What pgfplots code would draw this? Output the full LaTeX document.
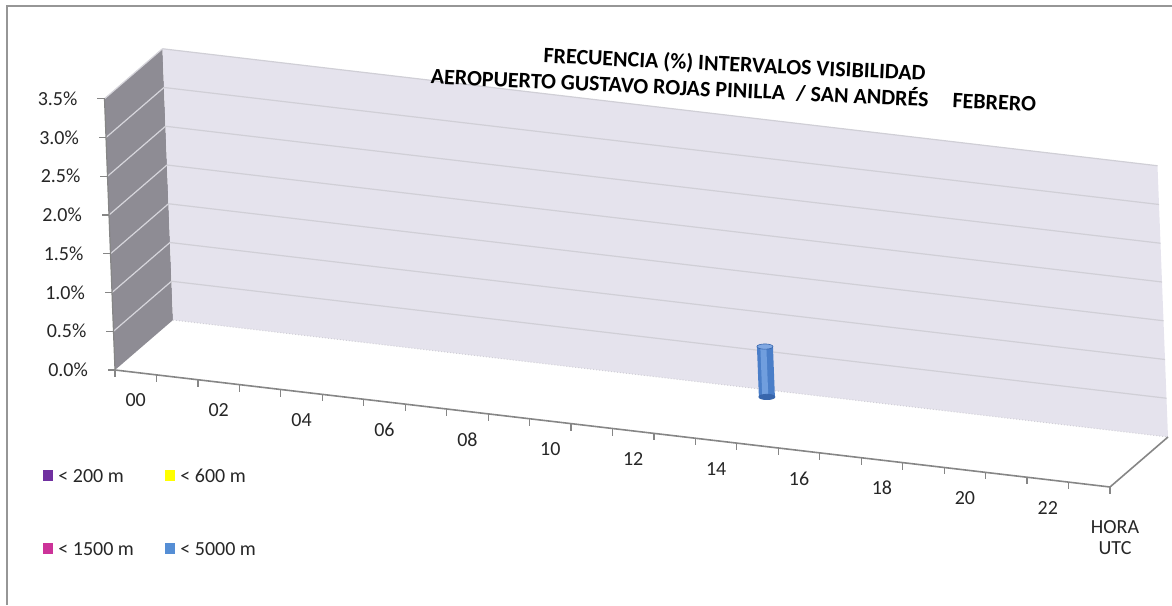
\documentclass[border=0pt]{standalone}
\usepackage{pgfplots}
\pgfplotsset{compat=1.18}
\usepackage{fontspec}
\setmainfont{Carlito}
\definecolor{leftwall}{RGB}{142,140,148}
\definecolor{backwall}{RGB}{229,227,237}
\definecolor{gridback}{RGB}{208,207,214}
\definecolor{gridleft}{RGB}{214,213,219}
\definecolor{axisgray}{RGB}{134,134,134}
\definecolor{framegray}{RGB}{150,150,150}
\definecolor{c200}{RGB}{112,48,160}
\definecolor{c600}{RGB}{255,255,0}
\definecolor{c1500}{RGB}{204,51,153}
\definecolor{c5000}{RGB}{85,142,213}
\definecolor{barmain}{RGB}{74,126,200}
\definecolor{bardark}{RGB}{56,102,172}
\definecolor{barlight}{RGB}{112,158,222}
\definecolor{bartop}{RGB}{128,168,226}
\begin{document}
\begin{tikzpicture}
\begin{axis}[
  x={(20.729pt,-2.4375pt)}, y={(7.25pt,6.25pt)}, z={(-1.5pt,38.75pt)},
  xmin=-0.5, xmax=23.5, ymin=0, ymax=4, zmin=0, zmax=3.5,
  clip=false,
  axis line style={draw=none},
  major tick length=0pt, minor tick length=0pt,
  xtick={0,2,...,22},
  xticklabels={00,02,04,06,08,10,12,14,16,18,20,22},
  ytick=\empty,
  ztick={0,0.5,...,3.5},
  zticklabel={\pgfmathprintnumber[fixed,fixed zerofill,precision=1]{\tick}\%},
  /pgf/number format/assume math mode=true,
  ticklabel style={font=\fontsize{10pt}{12pt}\selectfont, text=black!85},
  xticklabel style={anchor=center, yshift=-14pt},
  zticklabel style={anchor=east, xshift=-10pt},
]
\fill[leftwall] (axis cs:-0.5,0,0) -- (axis cs:-0.5,4,0) -- (axis cs:-0.5,4,3.5) -- (axis cs:-0.5,0,3.5) -- cycle;
\fill[backwall] (axis cs:-0.5,4,0) -- (axis cs:23.5,4,0) -- (axis cs:23.5,4,3.5) -- (axis cs:-0.5,4,3.5) -- cycle;
\pgfplotsinvokeforeach{0.5,1.0,1.5,2.0,2.5,3.0,3.5}{
  \draw[gridleft, line width=0.6pt] (axis cs:-0.5,0,#1) -- (axis cs:-0.5,4,#1);
  \draw[gridback, line width=0.6pt] (axis cs:-0.5,4,#1) -- (axis cs:23.5,4,#1);
}
\draw[gridback, line width=0.5pt, densely dotted] (axis cs:-0.5,4,0) -- (axis cs:23.5,4,0);
\draw[axisgray, line width=0.8pt] (axis cs:-0.5,0,0) -- (axis cs:23.5,0,0) -- (axis cs:23.5,4,0);
\draw[axisgray, line width=0.6pt] (axis cs:-0.5,0,0) -- (axis cs:-0.5,0,3.5);
\pgfplotsinvokeforeach{-0.5,0.5,...,23.5}{
  \draw[axisgray, line width=0.6pt] (axis cs:#1,0,0) -- ([yshift=-3.5pt]axis cs:#1,0,0);
}
\pgfplotsinvokeforeach{0,0.5,...,3.5}{
  \draw[axisgray, line width=0.6pt] (axis cs:-0.5,0,#1) -- ([xshift=-3.5pt]axis cs:-0.5,0,#1);
}
% series < 5000 m (hour 14)
\addplot3[only marks, mark=*, mark size=4pt, mark options={yscale=0.33, fill=bardark, draw=bardark}] coordinates {(14,3.5,0)};
\addplot3[draw=barmain, line width=8pt, mark=none] coordinates {(14,3.5,0) (14,3.5,0.65)};
\addplot3[draw=barlight, line width=3pt, mark=none, xshift=-0.8pt] coordinates {(14,3.5,0) (14,3.5,0.65)};
\addplot3[only marks, mark=*, mark size=4pt, mark options={yscale=0.33, fill=bartop, draw=bardark, line width=0.3pt}] coordinates {(14,3.5,0.65)};
\coordinate (O) at (axis cs:-0.5,0,0);
\end{axis}
\begin{scope}[shift={(O)}]
\begin{scope}[x=0.5pt, y=-0.5pt, shift={(-115,-370)}]
  \draw[framegray, line width=0.75pt] (7,605) -- (7,6) -- (1172,6);
  \node[rotate=-2.65, align=center, font=\fontsize{11pt}{13pt}\selectfont\bfseries, inner sep=0pt] at (734,77) {FRECUENCIA (\%) INTERVALOS VISIBILIDAD\\AEROPUERTO GUSTAVO ROJAS PINILLA\hspace{0.5em}/ SAN ANDRÉS\hspace{1.1em}FEBRERO};
  \node[align=center, font=\fontsize{10pt}{10.5pt}\selectfont, inner sep=0pt, text=black!85] at (1115,538) {HORA\\UTC};
  \fill[c200] (43,470) rectangle (53,481);
  \node[anchor=west, inner sep=0pt, font=\fontsize{10pt}{12pt}\selectfont, text=black!85] at (58,476) {< 200 m};
  \fill[c600] (165,470) rectangle (175,481);
  \node[anchor=west, inner sep=0pt, font=\fontsize{10pt}{12pt}\selectfont, text=black!85] at (180,476) {< 600 m};
  \fill[c1500] (43,543) rectangle (53,554);
  \node[anchor=west, inner sep=0pt, font=\fontsize{10pt}{12pt}\selectfont, text=black!85] at (58,549) {< 1500 m};
  \fill[c5000] (165,543) rectangle (175,554);
  \node[anchor=west, inner sep=0pt, font=\fontsize{10pt}{12pt}\selectfont, text=black!85] at (180,549) {< 5000 m};
  \pgfresetboundingbox
  \path[use as bounding box] (0,0) rectangle (1172,605);
\end{scope}
\end{scope}
\end{tikzpicture}
\end{document}
